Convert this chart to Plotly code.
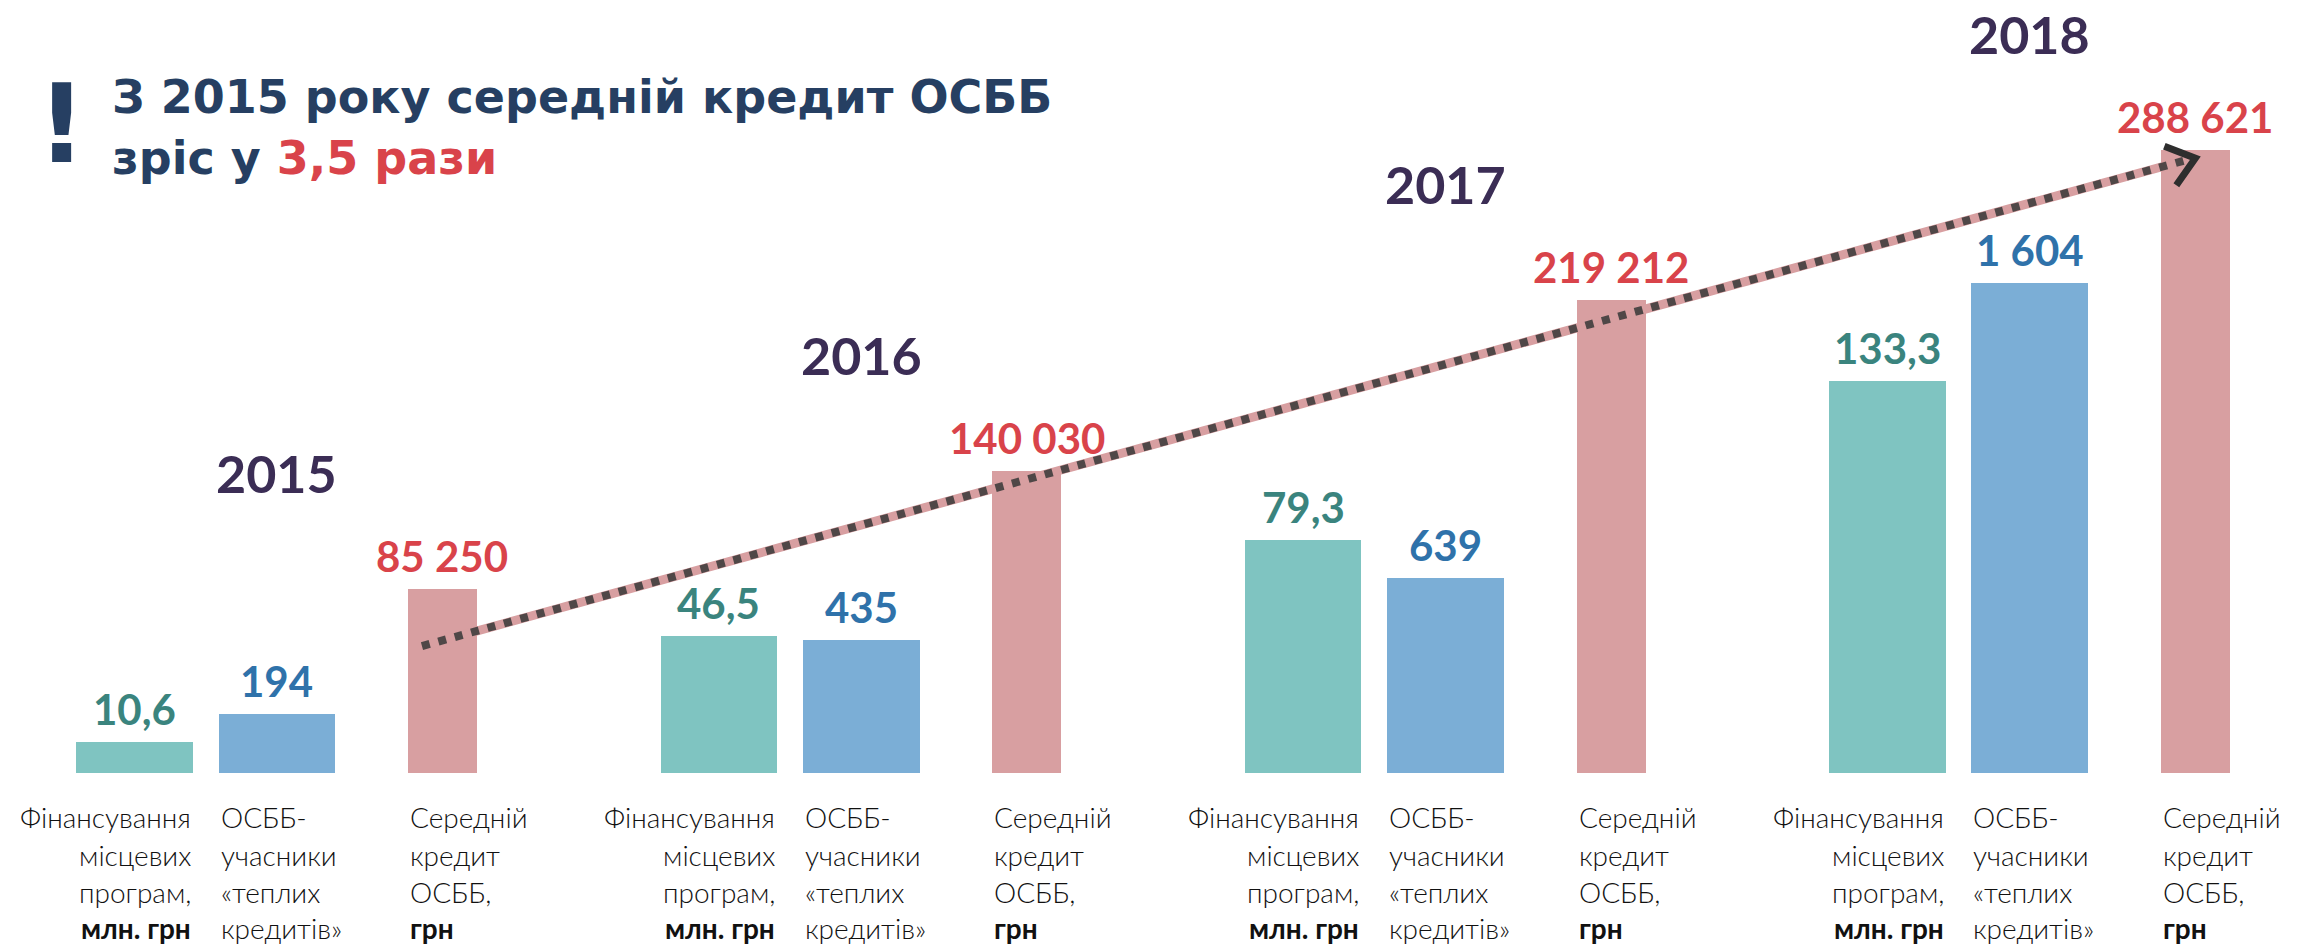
import plotly.graph_objects as go

# ---------------- data ----------------
years = ["2015", "2016", "2017", "2018"]
funding = [10.6, 46.5, 79.3, 133.3]          # Фінансування місцевих програм, млн. грн
members = [194, 435, 639, 1604]              # ОСББ-учасники «теплих кредитів»
avg_credit = [85250, 140030, 219212, 288621] # Середній кредит ОСББ, грн

funding_labels = ["10,6", "46,5", "79,3", "133,3"]
members_labels = ["194", "435", "639", "1 604"]
credit_labels = ["85 250", "140 030", "219 212", "288 621"]

cat_funding = ["Фінансування", "місцевих", "програм,", "<b>млн. грн</b>"]
cat_members = ["ОСББ-", "учасники", "«теплих", "кредитів»"]
cat_credit = ["Середній", "кредит", "ОСББ,", "<b>грн</b>"]

title_line1 = "З 2015 року середній кредит ОСББ"
title_line2 = "зріс у "
title_line2_red = "3,5 рази"

# ---------------- layout constants ----------------
W, H = 2305, 949
PLOT_BOTTOM = 773
GROUP_PX = 584.3
FIRST_PX = 134.5
OFF = {"f": 0.0, "m": 0.2438, "c": 0.527}
WID = {"f": 0.199, "m": 0.2, "c": 0.118}
PPU = {"f": 2.94, "m": 0.3058, "c": 0.002158}   # pixels per unit on each scale

C_F, C_M, C_C = "#7FC4C1", "#7BAED6", "#D89FA1"
T_F, T_M, T_C = "#3A847E", "#2F72AA", "#D9434A"
YEAR_C = "#3B2D55"
TITLE_C = "#263F62"

VAL_FONT = "Lato, 'Open Sans', sans-serif"
CAT_FONT = "Lato, 'Open Sans', sans-serif"
TITLE_FONT = "'DejaVu Sans', Lato, sans-serif"

gx = list(range(len(years)))
xf = [g + OFF["f"] for g in gx]
xm = [g + OFF["m"] for g in gx]
xc = [g + OFF["c"] for g in gx]

fig = go.Figure()
fig.add_trace(go.Bar(x=xf, y=funding, width=WID["f"], marker=dict(color=C_F, line_width=0),
                     yaxis="y", hoverinfo="skip", showlegend=False))
fig.add_trace(go.Bar(x=xm, y=members, width=WID["m"], marker=dict(color=C_M, line_width=0),
                     yaxis="y2", hoverinfo="skip", showlegend=False))
fig.add_trace(go.Bar(x=xc, y=avg_credit, width=WID["c"], marker=dict(color=C_C, line_width=0),
                     yaxis="y3", hoverinfo="skip", showlegend=False))

ann = []
# value labels
for xs, vals, labs, yref, col in [(xf, funding, funding_labels, "y", T_F),
                                  (xm, members, members_labels, "y2", T_M),
                                  (xc, avg_credit, credit_labels, "y3", T_C)]:
    for x, v, t in zip(xs, vals, labs):
        ann.append(dict(x=x, y=v, xref="x", yref=yref, text=t, showarrow=False,
                        yanchor="bottom", xanchor="center", yshift=6,
                        font=dict(family=VAL_FONT, size=42, color=col, weight=700)))
# year labels (above the average-credit bar level, centred on the middle bar)
for x, v, yr in zip(xm, avg_credit, years):
    ann.append(dict(x=x, y=v, xref="x", yref="y3", text=yr, showarrow=False,
                    yanchor="middle", xanchor="center", yshift=116,
                    font=dict(family=VAL_FONT, size=52, color=YEAR_C, weight=700)))
# category labels under bars
LINE_CENTERS = [817, 855, 892, 928]
for g in gx:
    for j in range(4):
        ys = -(LINE_CENTERS[j] - PLOT_BOTTOM)
        ann.append(dict(x=xf[g] + WID["f"] / 2, y=0, xref="x", yref="paper", text=cat_funding[j],
                        showarrow=False, xanchor="right", yanchor="middle", yshift=ys,
                        font=dict(family=CAT_FONT, size=28, color="#111111", weight=300)))
        ann.append(dict(x=xm[g] - WID["m"] / 2, y=0, xref="x", yref="paper", text=cat_members[j],
                        showarrow=False, xanchor="left", yanchor="middle", yshift=ys,
                        font=dict(family=CAT_FONT, size=28, color="#111111", weight=300)))
        ann.append(dict(x=xc[g] - WID["c"] / 2, y=0, xref="x", yref="paper", text=cat_credit[j],
                        showarrow=False, xanchor="left", yanchor="middle", yshift=ys,
                        font=dict(family=CAT_FONT, size=28, color="#111111", weight=300)))

# title
def py2paper(py):
    return (PLOT_BOTTOM - py) / PLOT_BOTTOM

ann.append(dict(x=110 / W, y=py2paper(97), xref="paper", yref="paper", text=title_line1,
                showarrow=False, xanchor="left", yanchor="middle",
                font=dict(family=TITLE_FONT, size=46, color=TITLE_C, weight=700)))
ann.append(dict(x=110 / W, y=py2paper(158), xref="paper", yref="paper",
                text=title_line2 + "<span style='color:" + T_C + "'>" + title_line2_red + "</span>",
                showarrow=False, xanchor="left", yanchor="middle",
                font=dict(family=TITLE_FONT, size=46, color=TITLE_C, weight=700)))
ann.append(dict(x=61 / W, y=py2paper(124), xref="paper", yref="paper", text="!",
                showarrow=False, xanchor="center", yanchor="middle",
                font=dict(family=TITLE_FONT, size=108, color=TITLE_C, weight=700)))

# trend arrow from the 2015 to the 2018 average credit bar
ax0, ay0 = xc[0] - 0.035, avg_credit[0] * 0.69
ax1, ay1 = xc[-1] - 0.012, avg_credit[-1] * 0.985
shapes = [
    dict(type="line", xref="x", yref="y3", x0=ax0, y0=ay0, x1=ax1, y1=ay1,
         line=dict(color=C_C, width=9), layer="above"),
    dict(type="line", xref="x", yref="y3", x0=ax0, y0=ay0, x1=ax1, y1=ay1,
         line=dict(color="rgba(55,55,55,0.85)", width=8, dash="8px,9px"), layer="above"),
    dict(type="path", xref="x", yref="y3", xsizemode="pixel", ysizemode="pixel",
         xanchor=xc[-1], yanchor=avg_credit[-1] * 0.987,
         path="M -19,-27 L 0,0 L -31,12",
         line=dict(color="#2E2E2E", width=7), layer="above"),
]

ax_common = dict(visible=False, showgrid=False, zeroline=False, fixedrange=True)
fig.update_layout(
    width=W, height=H,
    margin=dict(l=0, r=0, t=0, b=H - PLOT_BOTTOM, pad=0),
    paper_bgcolor="white", plot_bgcolor="white",
    barmode="overlay", bargap=0,
    xaxis=dict(range=[-FIRST_PX / GROUP_PX, (W - FIRST_PX) / GROUP_PX], **ax_common),
    yaxis=dict(range=[0, PLOT_BOTTOM / PPU["f"]], **ax_common),
    yaxis2=dict(range=[0, PLOT_BOTTOM / PPU["m"]], overlaying="y", **ax_common),
    yaxis3=dict(range=[0, PLOT_BOTTOM / PPU["c"]], overlaying="y", **ax_common),
    annotations=ann,
    shapes=shapes,
    showlegend=False,
)

fig.write_html("out.html", config={"displayModeBar": False},
               post_script="document.body.style.margin='0';document.body.style.overflow='hidden';")
